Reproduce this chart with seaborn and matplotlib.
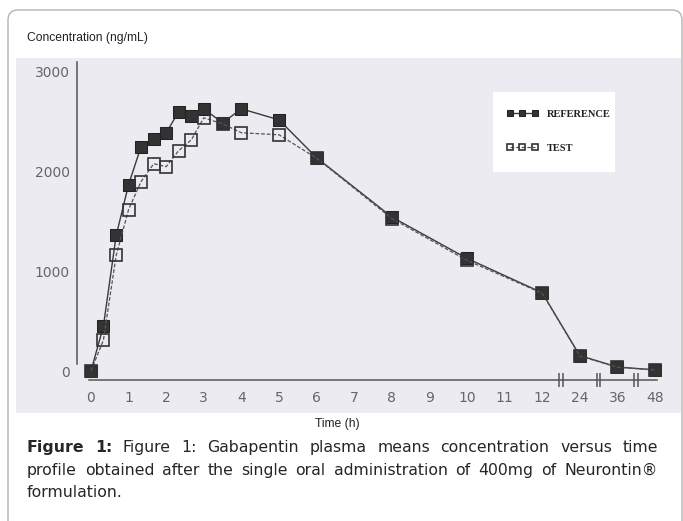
import matplotlib
matplotlib.use("Agg")
import matplotlib.pyplot as plt
import matplotlib.transforms as mtransforms
from matplotlib.patches import Rectangle, FancyBboxPatch
import seaborn as sns

sns.set_style("white")
plt.rcParams['font.family'] = ['DejaVu Sans']

# sampling times (h)
times = [0, 0.33, 0.67, 1, 1.33, 1.67, 2, 2.33, 2.67, 3, 3.5, 4, 5, 6, 8, 10, 12, 24, 36, 48]
reference = [0, 450, 1360, 1870, 2250, 2330, 2390, 2600, 2560, 2630, 2490, 2630, 2520,
             2140, 1545, 1130, 785, 155, 40, 12]
test = [0, 310, 1160, 1620, 1900, 2080, 2050, 2210, 2320, 2540, 2480, 2390, 2370,
        2135, 1530, 1110, 780, 150, 38, 10]
tick_hours = [0, 1, 2, 3, 4, 5, 6, 7, 8, 9, 10, 11, 12, 24, 36, 48]
y_ticks = [0, 1000, 2000, 3000]


def hour_pos(h):
    # broken axis: linear to 12 h, then one slot per 12 h
    return h if h <= 12 else 12 + (h - 12) / 12.0


W, H = 683, 521
fig = plt.figure(figsize=(W / 100, H / 100), dpi=100)
fig.patch.set_facecolor("white")

# outer rounded frame and grey picture area
fig.add_artist(FancyBboxPatch((8, -20), 674, H - 10 + 20,
                              boxstyle="round,pad=0,rounding_size=10",
                              transform=mtransforms.IdentityTransform(),
                              fc="none", ec="#b4b4b4", lw=1.0, zorder=-2))
fig.add_artist(Rectangle((16 / W, 1 - 413 / H), (681 - 16) / W, (413 - 58) / H,
                         transform=fig.transFigure, fc="#ebebf1", ec="none", zorder=-1))

ax = fig.add_axes([77 / W, (H - 380) / H, (665 - 77) / W, (380 - 64) / H])
ax.set_facecolor("none")

xpos = [hour_pos(t) for t in times]
sns.lineplot(x=xpos, y=reference, ax=ax, color="#3a3a3a", lw=1.0, marker="s",
             markersize=9, markerfacecolor="#333333", markeredgecolor="#222222",
             label="REFERENCE", zorder=3)
sns.lineplot(x=xpos, y=test, ax=ax, color="#555555", lw=0.9, linestyle=(0, (3, 1.5)),
             marker="s", markersize=8, markerfacecolor="none",
             markeredgecolor="#333333", markeredgewidth=1.2, label="TEST", zorder=4)

ax.set_xlim(-0.372, 15.266)
ax.set_ylim(-90, 3080)
ax.set_xticks([hour_pos(h) for h in tick_hours])
ax.set_xticklabels([str(h) for h in tick_hours])
ax.set_yticks(y_ticks)
ax.set_yticklabels([str(v) for v in y_ticks])
ax.set_xlabel("")
ax.set_ylabel("")

for s in ["top", "right"]:
    ax.spines[s].set_visible(False)
for s in ["left", "bottom"]:
    ax.spines[s].set_color("#555555")
    ax.spines[s].set_linewidth(1.1)
ax.spines["left"].set_bounds(70, 3100)
ax.spines["bottom"].set_bounds(-0.05, 15.05)
ax.tick_params(axis="x", direction="out", length=4, width=1.1, color="#555555",
               labelsize=10, labelcolor="#666666", pad=4)
ax.tick_params(axis="y", direction="out", length=3, width=1.0, color="#555555",
               labelsize=10, labelcolor="#666666", pad=2)

# axis break marks between 12-24, 24-36, 36-48
brk = mtransforms.blended_transform_factory(ax.transData, ax.transAxes)
for b in [12.5, 13.5, 14.5]:
    ax.plot([b - 0.05, b + 0.05], [0, 0], ls="none", marker="|", ms=10, mew=1.1,
            color="#555555", transform=brk, clip_on=False)

# legend in a white box
fig.add_artist(Rectangle((493 / W, 1 - 172 / H), (615 - 493) / W, (172 - 92) / H,
                         transform=fig.transFigure, fc="white", ec="none", zorder=-0.5))
handles, labels = ax.get_legend_handles_labels()
leg = ax.legend(handles, labels, loc="upper left", bbox_to_anchor=(497 / W, 1 - 100 / H),
                bbox_transform=fig.transFigure, frameon=False, numpoints=3,
                markerscale=0.55, handlelength=3.0, handletextpad=0.9, labelspacing=2.4,
                prop={"family": "Liberation Serif", "weight": "bold", "size": 7.5})
for t in leg.get_texts():
    t.set_color("#222222")

fig.text(27 / W, 1 - 38 / H, "Concentration (ng/mL)", ha="left", va="center",
         fontsize=8.7, family="Liberation Sans", color="#222222")
fig.text(337 / W, 1 - 424 / H, "Time (h)", ha="center", va="center",
         fontsize=8.7, family="Liberation Sans", color="#222222")

# caption, justified like the journal page
cap_lines = [
    [("Figure", True), ("1:", True), ("Figure", False), ("1:", False), ("Gabapentin", False),
     ("plasma", False), ("means", False), ("concentration", False), ("versus", False),
     ("time", False)],
    [(w, False) for w in "profile obtained after the single oral administration of 400mg of Neurontin®".split()],
    [("formulation.", False)],
]
baselines = [452, 475, 497]
left_px, right_px = 27, 658
renderer = fig.canvas.get_renderer()
for i, (words, yb) in enumerate(zip(cap_lines, baselines)):
    arts = []
    for w, bold in words:
        arts.append(fig.text(0, 1 - yb / H, w, ha="left", va="baseline", fontsize=11.3,
                             family="DejaVu Sans", color="#262626",
                             weight="bold" if bold else "normal"))
    widths = [a.get_window_extent(renderer).width for a in arts]
    if len(arts) > 1 and i < len(cap_lines) - 1:
        gap = max(2, (right_px - left_px - sum(widths)) / (len(arts) - 1))
    else:
        gap = 4
    x = left_px
    for a, wd in zip(arts, widths):
        a.set_x(x / W)
        x += wd + gap

fig.savefig("out.png", dpi=100)
